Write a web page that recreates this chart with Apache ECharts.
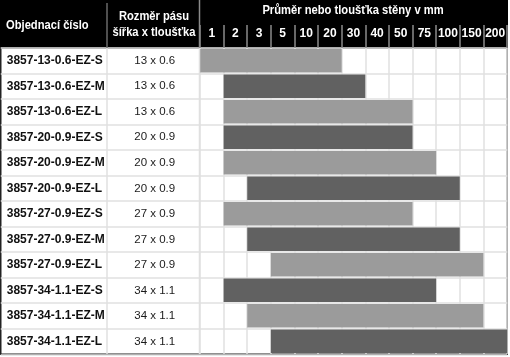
<!DOCTYPE html>
<html>
<head>
<meta charset="utf-8">
<script src="https://cdn.jsdelivr.net/npm/echarts@6/dist/echarts.min.js"></script>
<style>
html,body{margin:0;padding:0;background:#fff;}
#chart{width:510px;height:357px;}
</style>
</head>
<body>
<div id="chart"></div>
<script>
const partNumbers = [
  '3857-13-0.6-EZ-S','3857-13-0.6-EZ-M','3857-13-0.6-EZ-L',
  '3857-20-0.9-EZ-S','3857-20-0.9-EZ-M','3857-20-0.9-EZ-L',
  '3857-27-0.9-EZ-S','3857-27-0.9-EZ-M','3857-27-0.9-EZ-L',
  '3857-34-1.1-EZ-S','3857-34-1.1-EZ-M','3857-34-1.1-EZ-L'
];
const sizes = [
  '13 x 0.6','13 x 0.6','13 x 0.6',
  '20 x 0.9','20 x 0.9','20 x 0.9',
  '27 x 0.9','27 x 0.9','27 x 0.9',
  '34 x 1.1','34 x 1.1','34 x 1.1'
];
const diameterTicks = ['1','2','3','5','10','20','30','40','50','75','100','150','200'];
const rangeFrom = ['1','2','2','2','2','3','2','3','5','2','3','5'];
const rangeTo   = ['20','30','50','50','75','100','50','100','150','75','150','200'];

const headerPart = 'Objednací číslo';
const headerSize = 'Rozměr pásu\nšířka x tloušťka';
const headerRange = 'Průměr nebo tloušťka stěny v mm';

const FONT = '"Liberation Sans",Arial,Helvetica,sans-serif';
const LIGHT = '#9b9b9b', DARK = '#616161', GRIDC = '#e0e0e0';

const startIdx = rangeFrom.map(v => diameterTicks.indexOf(v));
const spanLen = rangeTo.map((v, i) => diameterTicks.indexOf(v) + 1 - startIdx[i]);
const rowLabels = partNumbers.map((p, i) => p + '|' + sizes[i]);

const chart = echarts.init(document.getElementById('chart'), null, {renderer: 'canvas'});
chart.setOption({
  animation: false,
  backgroundColor: '#fff',
  grid: [
    {left: 0.75, right: 2.75, top: 48, bottom: 2.75, show: true, borderColor: '#222', borderWidth: 1.5, backgroundColor: 'transparent'},
    {left: 200, right: 3, top: 48, bottom: 3}
  ],
  xAxis: [
    {gridIndex: 0, type: 'value', min: 0, max: 1, show: false},
    {gridIndex: 1, type: 'value', min: 0, max: diameterTicks.length, interval: 1,
     axisLabel: {show: false}, axisLine: {show: false}, axisTick: {show: false},
     splitLine: {show: true, lineStyle: {color: GRIDC, width: 1.5}}},
    {gridIndex: 1, type: 'category', position: 'top', data: diameterTicks, boundaryGap: true,
     axisLine: {show: false},
     axisTick: {show: true, length: 23, lineStyle: {color: '#8a8a8a', width: 1.5}},
     axisLabel: {color: '#fff', fontFamily: FONT, fontWeight: 'bold', fontSize: 12, margin: 8, interval: 0}}
  ],
  yAxis: [
    {gridIndex: 0, type: 'category', inverse: true, data: rowLabels,
     axisLine: {show: false}, axisTick: {show: false},
     splitLine: {show: true, interval: 0, lineStyle: {color: GRIDC, width: 1.5}},
     axisLabel: {inside: true, margin: 6, interval: 0,
       formatter: v => { const [p, s] = v.split('|'); return '{p|' + p + '}{s|' + s + '}'; },
       rich: {
         p: {width: 101, align: 'left', fontFamily: FONT, fontWeight: 'bold', fontSize: 12, color: '#111'},
         s: {width: 94, align: 'center', fontFamily: FONT, fontSize: 11.5, color: '#1a1a1a'}
       }}},
    {gridIndex: 1, type: 'category', inverse: true, data: partNumbers, show: false}
  ],
  series: [
    {type: 'bar', xAxisIndex: 1, yAxisIndex: 1, stack: 'r', barCategoryGap: '8%', silent: true,
     itemStyle: {color: 'transparent'}, data: startIdx},
    {type: 'bar', xAxisIndex: 1, yAxisIndex: 1, stack: 'r', barCategoryGap: '8%',
     data: spanLen.map((v, i) => ({value: v, itemStyle: {color: i % 2 === 0 ? LIGHT : DARK}}))}
  ],
  graphic: [
    {type: 'rect', z: -10, shape: {x: 0, y: 0, width: 508, height: 48}, style: {fill: '#000'}},
    {type: 'line', z: 5, shape: {x1: 107, y1: 3, x2: 107, y2: 48}, style: {stroke: '#6a6a6a', lineWidth: 1.5}},
    {type: 'line', z: 5, shape: {x1: 199.5, y1: 0, x2: 199.5, y2: 48}, style: {stroke: '#8a8a8a', lineWidth: 1.5}},
    {type: 'line', z: 5, shape: {x1: 107, y1: 48, x2: 107, y2: 354}, style: {stroke: GRIDC, lineWidth: 1.5}},
    {type: 'line', z: 5, shape: {x1: 199.5, y1: 48, x2: 199.5, y2: 354}, style: {stroke: GRIDC, lineWidth: 1.5}},
    {type: 'text', z: 10, x: 6, y: 25, scaleX: 0.86,
     style: {x: 0, y: 0, text: headerPart, fill: '#fff', font: 'bold 13px ' + FONT, textVerticalAlign: 'middle'}},
    {type: 'text', z: 10, x: 154, y: 24, scaleX: 0.86,
     style: {x: 0, y: 0, text: headerSize, fill: '#fff', font: 'bold 13px ' + FONT, textAlign: 'center', textVerticalAlign: 'middle', lineHeight: 16}},
    {type: 'text', z: 10, x: 353, y: 10, scaleX: 0.86,
     style: {x: 0, y: 0, text: headerRange, fill: '#fff', font: 'bold 13px ' + FONT, textAlign: 'center', textVerticalAlign: 'middle'}}
  ]
});
</script>
</body>
</html>
